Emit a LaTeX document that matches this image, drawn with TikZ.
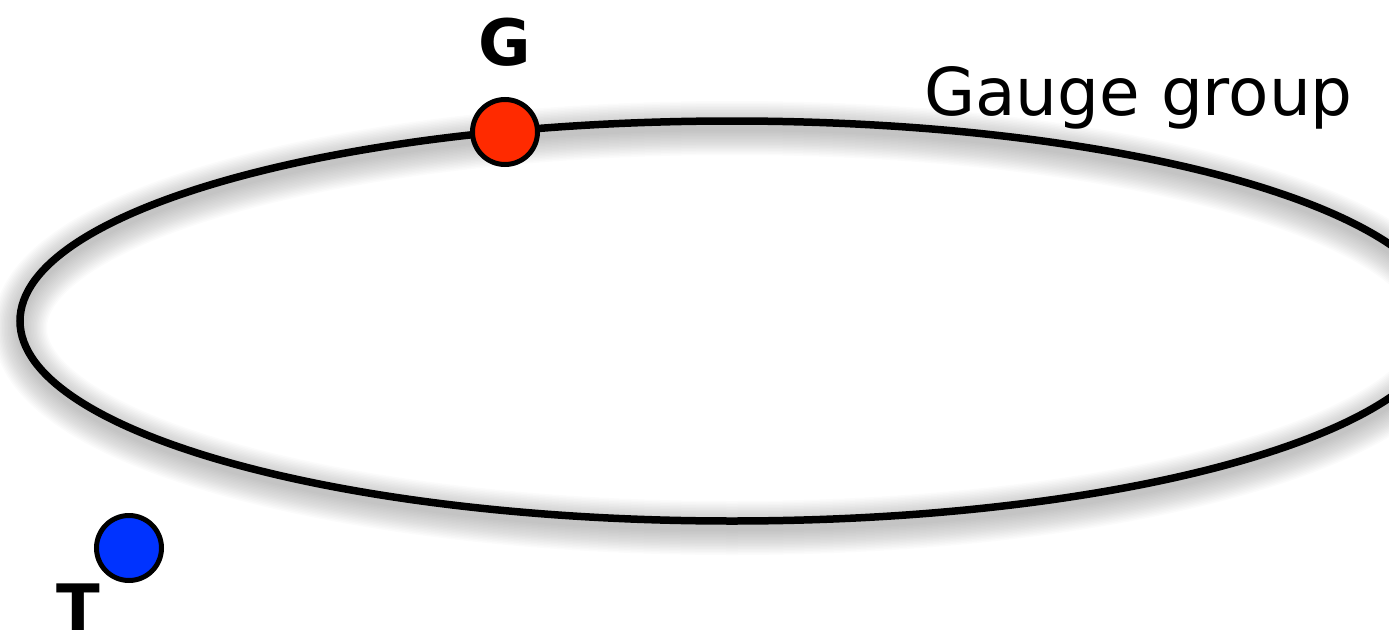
\documentclass[tikz,border=0pt]{standalone}
\usepackage{fontspec}
\setmainfont{DejaVu Sans}
\definecolor{gaugered}{RGB}{255,42,0}
\definecolor{tblue}{RGB}{0,51,255}
\begin{document}
\begin{tikzpicture}[x=1pt,y=-1pt,
  dot/.style={circle, draw=black, line width=5pt, inner sep=0pt, minimum size=65pt},
  biglabel/.style={font=\fontsize{64}{70}\selectfont\bfseries, inner sep=0pt}]
\useasboundingbox (0,0) rectangle (1389,629);
% soft drop shadow around the orbit
\foreach \w in {6,9,...,54}
  \draw[line width=\w pt, black, opacity=0.014] (732,328) ellipse [x radius=712, y radius=200];
% the orbit of the gauge group
\draw[line width=7.5pt, black] (732,321) ellipse [x radius=712, y radius=200];
\node[font=\fontsize{66}{72}\selectfont, inner sep=0pt, anchor=base west] (gauge) at (924,115) {Gauge group};
\node[dot, fill=gaugered] (g) at (505,132) {};
\node[dot, fill=tblue] (t) at (129,548) {};
\node[biglabel, anchor=base] (glabel) at (505,65) {G};
\node[biglabel, anchor=base] (tlabel) at (78,630) {T};
\end{tikzpicture}
\end{document}
